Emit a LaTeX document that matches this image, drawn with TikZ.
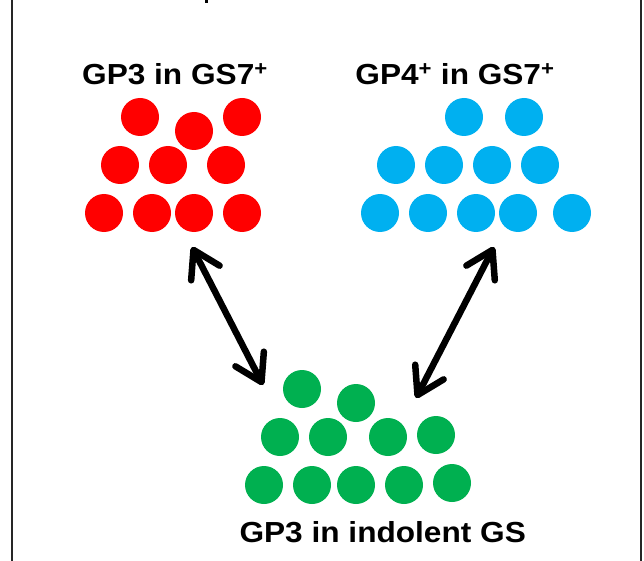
\documentclass[tikz,border=0pt]{standalone}
\usepackage{fontspec}
\setmainfont{Liberation Sans}
\usetikzlibrary{arrows.meta}
\definecolor{cred}{HTML}{FF0000}
\definecolor{cblue}{HTML}{00B0F0}
\definecolor{cgreen}{HTML}{00B050}
\begin{document}
\begin{tikzpicture}[x=1pt,y=-1pt,
  dotred/.style={circle,fill=cred,draw=none,minimum size=38pt,inner sep=0pt},
  dotblue/.style={circle,fill=cblue,draw=none,minimum size=38pt,inner sep=0pt},
  dotgreen/.style={circle,fill=cgreen,draw=none,minimum size=38pt,inner sep=0pt},
  ttl/.style={anchor=base,inner sep=0pt,font=\fontsize{29}{33}\selectfont\bfseries,xscale=1.09},
  dbl/.style={line width=6.5pt,line cap=round,
    {Straight Barb[length=26pt,width=32pt,line width=6.5pt,line cap=round,line join=round]}-{Straight Barb[length=26pt,width=32pt,line width=6.5pt,line cap=round,line join=round]}},
  frame/.style={line width=2pt,draw=black!85}]
\useasboundingbox (0,0) rectangle (644,561);
% frame
\draw[frame] (11.5,0) -- (11.5,561);
\draw[frame] (641,0) -- (641,561);
\fill (205,0) rectangle (207.5,3);
% titles
\node[ttl] (tred) at (175,85) {GP3 in GS7\textsuperscript{+}};
\node[ttl] (tblue) at (455,85) {GP4\textsuperscript{+} in GS7\textsuperscript{+}};
\node[ttl] (tgreen) at (382.7,542) {GP3 in indolent GS};
% red dots
\node[dotred] (r1) at (140,117) {};
\node[dotred] (r2) at (194,131) {};
\node[dotred] (r3) at (242,117) {};
\node[dotred] (r4) at (120,165) {};
\node[dotred] (r5) at (168,165) {};
\node[dotred] (r6) at (226,165) {};
\node[dotred] (r7) at (104,213) {};
\node[dotred] (r8) at (152,213) {};
\node[dotred] (r9) at (194,213) {};
\node[dotred] (r10) at (242,213) {};
% blue dots
\node[dotblue] (b1) at (464,117) {};
\node[dotblue] (b2) at (524,117) {};
\node[dotblue] (b3) at (396,165) {};
\node[dotblue] (b4) at (444,165) {};
\node[dotblue] (b5) at (492,165) {};
\node[dotblue] (b6) at (540,165) {};
\node[dotblue] (b7) at (380,213) {};
\node[dotblue] (b8) at (428,213) {};
\node[dotblue] (b9) at (476,213) {};
\node[dotblue] (b10) at (518,213) {};
\node[dotblue] (b11) at (572,213) {};
% green dots
\node[dotgreen] (g1) at (302,389) {};
\node[dotgreen] (g2) at (356,403) {};
\node[dotgreen] (g3) at (280,437) {};
\node[dotgreen] (g4) at (328,437) {};
\node[dotgreen] (g5) at (388,437) {};
\node[dotgreen] (g6) at (436,435) {};
\node[dotgreen] (g7) at (264,485) {};
\node[dotgreen] (g8) at (312,485) {};
\node[dotgreen] (g9) at (356,485) {};
\node[dotgreen] (g10) at (404,485) {};
\node[dotgreen] (g11) at (452,483) {};
% arrow ends
\coordinate (redend) at (192,247);
\coordinate (greenL) at (263,385);
\coordinate (blueend) at (494,247);
\coordinate (greenR) at (416,398);
\draw[dbl] (redend) -- (greenL);
\draw[dbl] (blueend) -- (greenR);
\end{tikzpicture}
\end{document}
